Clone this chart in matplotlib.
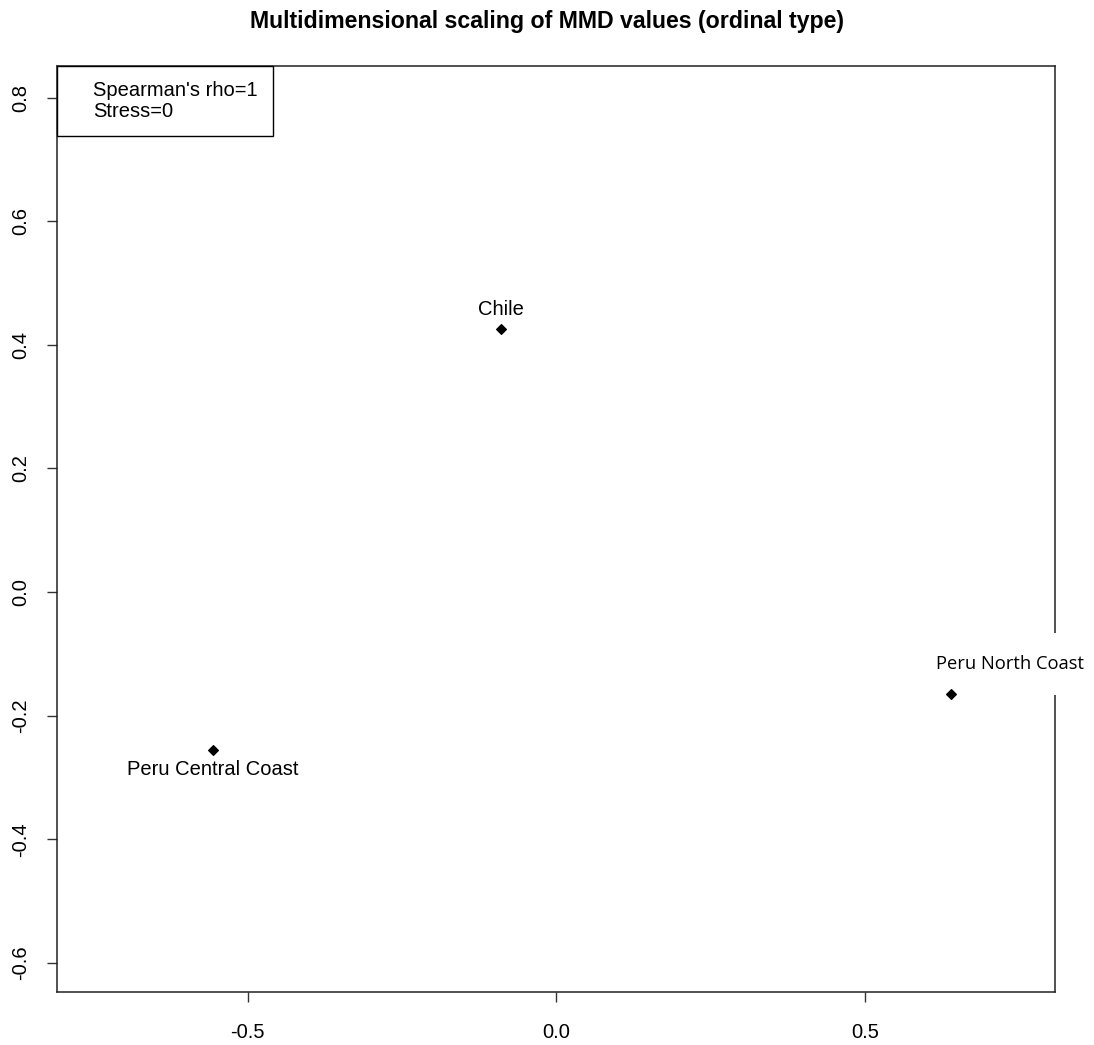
import matplotlib.pyplot as plt
from matplotlib.lines import Line2D

plt.rcParams['font.family'] = ['Liberation Sans', 'DejaVu Sans']

# MDS coordinates
groups = ["Chile", "Peru Central Coast", "Peru North Coast"]
dim1 = [-0.089, -0.556, 0.639]
dim2 = [0.426, -0.256, -0.165]
stats_text = ["Spearman's rho=1", "Stress=0"]
x_ticks = [-0.5, 0.0, 0.5]
y_ticks = [-0.6, -0.4, -0.2, 0.0, 0.2, 0.4, 0.6, 0.8]

fig = plt.figure(figsize=(10.94, 10.45), dpi=100)
ax = fig.add_axes([0.0521, 0.0507, 0.9122, 0.8861])

ax.scatter(dim1, dim2, marker='D', s=24, color='black', zorder=7)

# labels: Chile above, Central Coast below, North Coast above with white box
ax.annotate(groups[0], (dim1[0], dim2[0]), xytext=(0, 7), textcoords='offset points',
            ha='center', va='bottom', fontsize=14.5)
ax.annotate(groups[1], (dim1[1], dim2[1]), xytext=(0, -7), textcoords='offset points',
            ha='center', va='top', fontsize=14.5)
ax.annotate(groups[2], (dim1[2], dim2[2]), xytext=(43, 15), textcoords='offset points',
            ha='center', va='bottom', fontsize=13.2, family=['Open Sans', 'DejaVu Sans'],
            bbox=dict(facecolor='white', edgecolor='none', pad=16),
            annotation_clip=False, zorder=5, clip_on=False)

ax.set_xlim(-0.809, 0.808)
ax.set_ylim(-0.647, 0.851)
ax.set_xticks(x_ticks)
ax.set_xticklabels([f"{v:.1f}" for v in x_ticks])
ax.set_yticks(y_ticks)
ax.set_yticklabels([f"{v:.1f}" for v in y_ticks], rotation=90, va='center')
ax.tick_params(axis='x', length=7, width=1, labelsize=14.5, pad=15, color='#333333')
ax.tick_params(axis='y', length=7, width=1, labelsize=14.5, pad=12, color='#333333')
for sp in ax.spines.values():
    sp.set_linewidth(1.1)
    sp.set_color('#222222')

handles = [Line2D([], [], linestyle='none') for _ in stats_text]
leg = ax.legend(handles, stats_text, loc='upper left', borderaxespad=0, fancybox=False,
                edgecolor='black', framealpha=1, fontsize=14.5, handlelength=0.8,
                handletextpad=0.25, labelspacing=0.1, borderpad=0.75)
leg.get_frame().set_linewidth(1.0)

fig.suptitle("Multidimensional scaling of MMD values (ordinal type)", fontsize=16.7,
             fontweight='bold', y=0.99)

fig.savefig("out.png", dpi=100)
